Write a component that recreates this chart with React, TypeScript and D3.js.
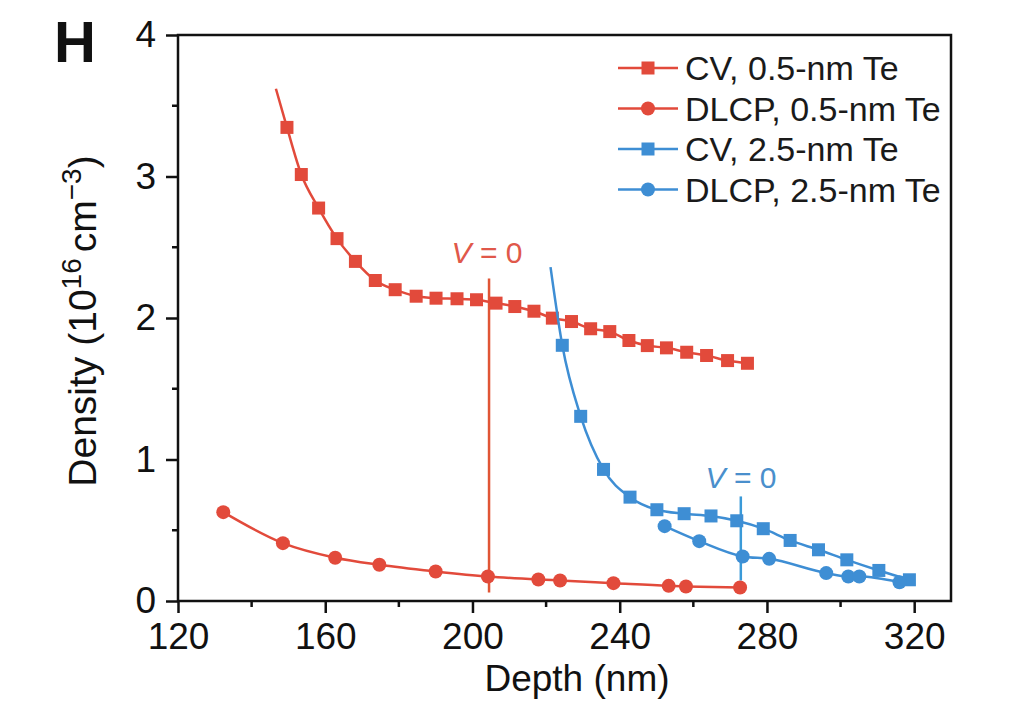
import React, { useEffect, useRef } from 'react';
import * as d3 from 'd3';

// Depth (nm), density (1e16 cm^-3)
const cv05Lead: [number, number] = [146.6, 3.62];
const cv05: [number, number][] = [
  [149.6, 3.347], [153.5, 3.014], [158.2, 2.777], [163.2, 2.561], [168.2, 2.4],
  [173.6, 2.265], [179.0, 2.2], [184.7, 2.154], [190.1, 2.14], [195.8, 2.136],
  [201.1, 2.129], [206.4, 2.105], [211.5, 2.081], [216.7, 2.048], [221.7, 1.999],
  [226.9, 1.975], [232.1, 1.924], [237.3, 1.904], [242.5, 1.841], [247.5, 1.805],
  [252.7, 1.789], [258.2, 1.758], [263.6, 1.735], [269.3, 1.699], [274.7, 1.68],
];
const dlcp05: [number, number][] = [
  [132.3, 0.628], [148.5, 0.409], [162.7, 0.306], [174.7, 0.256], [190.0, 0.209],
  [204.2, 0.173], [217.9, 0.152], [223.8, 0.145], [238.3, 0.126], [253.3, 0.107],
  [258.0, 0.103], [272.7, 0.095],
];
const cv25Lead: [number, number] = [221.2, 2.36];
const cv25: [number, number][] = [
  [224.4, 1.807], [229.4, 1.305], [235.6, 0.93], [242.8, 0.734], [250.1, 0.645],
  [257.5, 0.617], [264.8, 0.601], [271.8, 0.567], [279.0, 0.511], [286.3, 0.428],
  [294.0, 0.362], [301.7, 0.291], [310.4, 0.216], [318.7, 0.15],
];
const dlcp25: [number, number][] = [
  [252.2, 0.529], [261.6, 0.423], [273.4, 0.315], [280.6, 0.298], [296.1, 0.197],
  [302.1, 0.173], [305.1, 0.173], [316.0, 0.133],
];
// V = 0 markers: depth, y from, y to
const v0Thin = { x: 204.5, y0: 0.06, y1: 2.28 };
const v0Thick = { x: 272.9, y0: 0.145, y1: 0.739 };

const xMajor = [120, 160, 200, 240, 280, 320];
const xMinor = [140, 180, 220, 260, 300];
const yMajor = [0, 1, 2, 3, 4];
const yMinor = [0.5, 1.5, 2.5, 3.5];

const legendLabels = ['CV, 0.5-nm Te', 'DLCP, 0.5-nm Te', 'CV, 2.5-nm Te', 'DLCP, 2.5-nm Te'];

const RED = '#e24a3b';
const BLUE = '#3e8ed4';
const FONT = '"Liberation Sans", Arial, Helvetica, sans-serif';

const W = 1030;
const H = 716;

const App: React.FC = () => {
  const svgRef = useRef<SVGSVGElement>(null);

  useEffect(() => {
    const svg = d3.select(svgRef.current);
    svg.selectAll('*').remove();

    const left = 178, right = 951, top = 35, bottom = 601;
    const x = d3.scaleLinear().domain([120, 330]).range([left, right]);
    const y = d3.scaleLinear().domain([0, 4]).range([bottom, top]);

    const line = d3.line<[number, number]>()
      .x(d => x(d[0]))
      .y(d => y(d[1]))
      .curve(d3.curveMonotoneX);

    // frame
    svg.append('rect')
      .attr('x', left).attr('y', top)
      .attr('width', right - left).attr('height', bottom - top)
      .attr('fill', 'none').attr('stroke', '#111').attr('stroke-width', 2.5);

    // x axis
    const xa = svg.append('g')
      .attr('transform', `translate(0,${bottom})`)
      .call(d3.axisBottom(x).tickValues(xMajor).tickSize(12).tickSizeOuter(0).tickPadding(10));
    xa.select('.domain').remove();
    xa.selectAll('line').attr('stroke', '#111').attr('stroke-width', 2.5);
    xa.selectAll('text').attr('font-family', FONT).attr('font-size', 37).attr('fill', '#111');
    svg.append('g').selectAll('line').data(xMinor).enter().append('line')
      .attr('x1', d => x(d)).attr('x2', d => x(d))
      .attr('y1', bottom).attr('y2', bottom + 6)
      .attr('stroke', '#111').attr('stroke-width', 2.5);

    // y axis
    const ya = svg.append('g')
      .attr('transform', `translate(${left},0)`)
      .call(d3.axisLeft(y).tickValues(yMajor).tickSize(12).tickSizeOuter(0).tickPadding(10).tickFormat(d3.format('d')));
    ya.select('.domain').remove();
    ya.selectAll('line').attr('stroke', '#111').attr('stroke-width', 2.5);
    ya.selectAll('text').attr('font-family', FONT).attr('font-size', 37).attr('fill', '#111');
    svg.append('g').selectAll('line').data(yMinor).enter().append('line')
      .attr('x1', left - 6).attr('x2', left)
      .attr('y1', d => y(d)).attr('y2', d => y(d))
      .attr('stroke', '#111').attr('stroke-width', 2.5);

    // axis titles
    svg.append('text')
      .attr('x', 577).attr('y', 691)
      .attr('text-anchor', 'middle')
      .attr('font-family', FONT).attr('font-size', 37).attr('fill', '#111')
      .text('Depth (nm)');

    const yt = svg.append('text')
      .attr('transform', 'translate(96,321) rotate(-90)')
      .attr('text-anchor', 'middle')
      .attr('font-family', FONT).attr('font-size', 39).attr('fill', '#111');
    yt.append('tspan').text('Density (10');
    yt.append('tspan').attr('font-size', 28).attr('dy', -15).text('16');
    yt.append('tspan').attr('dy', 15).attr('dx', 6).text('cm');
    yt.append('tspan').attr('font-size', 28).attr('dy', -15).text('\u22123');
    yt.append('tspan').attr('dy', 15).text(')');

    // panel label
    svg.append('text')
      .attr('x', 54).attr('y', 62)
      .attr('font-family', FONT).attr('font-weight', 'bold').attr('font-size', 58).attr('fill', '#111')
      .text('H');

    // V = 0 lines
    const vLine = (v: { x: number; y0: number; y1: number }, color: string) =>
      svg.append('line')
        .attr('x1', x(v.x)).attr('x2', x(v.x))
        .attr('y1', y(v.y0)).attr('y2', y(v.y1))
        .attr('stroke', color).attr('stroke-width', 2.5);
    vLine(v0Thin, '#e05535');
    vLine(v0Thick, '#3a9ad8');

    const vLabel = (px: number, py: number, color: string) => {
      const t = svg.append('text')
        .attr('x', px).attr('y', py)
        .attr('text-anchor', 'middle')
        .attr('font-family', FONT).attr('font-size', 30).attr('fill', color);
      t.append('tspan').attr('font-style', 'italic').text('V');
      t.append('tspan').text(' = 0');
    };
    vLabel(487, 263, '#e0584a');
    vLabel(741, 488, '#4a8fcc');

    const drawSeries = (pts: [number, number][], lead: [number, number] | null, color: string, shape: 'square' | 'circle') => {
      const all = lead ? [lead, ...pts] : pts;
      svg.append('path')
        .attr('d', line(all) || '')
        .attr('fill', 'none').attr('stroke', color).attr('stroke-width', 2.5);
      const g = svg.append('g');
      if (shape === 'square') {
        g.selectAll('rect').data(pts).enter().append('rect')
          .attr('x', d => x(d[0]) - 6.5).attr('y', d => y(d[1]) - 6.5)
          .attr('width', 13).attr('height', 13)
          .attr('fill', color);
      } else {
        g.selectAll('circle').data(pts).enter().append('circle')
          .attr('cx', d => x(d[0])).attr('cy', d => y(d[1]))
          .attr('r', 7)
          .attr('fill', color);
      }
    };

    drawSeries(cv05, cv05Lead, RED, 'square');
    drawSeries(dlcp05, null, RED, 'circle');
    drawSeries(cv25, cv25Lead, BLUE, 'square');
    drawSeries(dlcp25, null, BLUE, 'circle');

    // legend
    const shapes: ('square' | 'circle')[] = ['square', 'circle', 'square', 'circle'];
    const colors = [RED, RED, BLUE, BLUE];
    legendLabels.forEach((lab, i) => {
      const cy = 68 + i * 40.5;
      const g = svg.append('g');
      g.append('line')
        .attr('x1', 618).attr('x2', 678).attr('y1', cy).attr('y2', cy)
        .attr('stroke', colors[i]).attr('stroke-width', 2.5);
      if (shapes[i] === 'square') {
        g.append('rect').attr('x', 641.5).attr('y', cy - 6.5).attr('width', 13).attr('height', 13).attr('fill', colors[i]);
      } else {
        g.append('circle').attr('cx', 648).attr('cy', cy).attr('r', 7).attr('fill', colors[i]);
      }
      g.append('text')
        .attr('x', 685).attr('y', cy + 12)
        .attr('font-family', FONT).attr('font-size', 34).attr('fill', '#1a1a1a')
        .text(lab);
    });
  }, []);

  return (
    <svg
      ref={svgRef}
      width={W}
      height={H}
      style={{ position: 'absolute', left: 0, top: 0, background: '#fff' }}
    />
  );
};

export default App;
